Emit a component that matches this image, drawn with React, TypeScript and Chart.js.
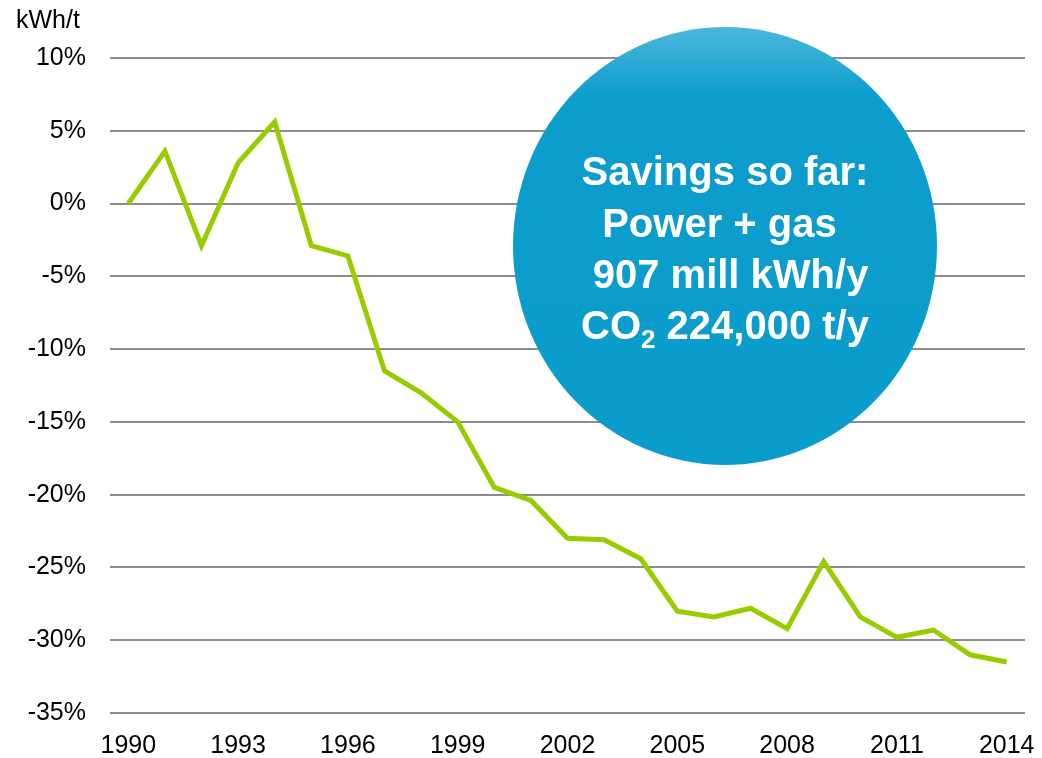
import React, { useEffect, useRef } from "react";
import { Chart, registerables } from "chart.js";

Chart.register(...registerables);

const years = [
  "1990", "1991", "1992", "1993", "1994", "1995", "1996", "1997", "1998", "1999",
  "2000", "2001", "2002", "2003", "2004", "2005", "2006", "2007", "2008", "2009",
  "2010", "2011", "2012", "2013", "2014",
];

const savingsPct = [
  0, 3.6, -2.9, 2.8, 5.6, -2.9, -3.6, -11.5, -13.0, -15.0,
  -19.5, -20.4, -23.0, -23.1, -24.4, -28.0, -28.4, -27.8, -29.2, -24.6,
  -28.4, -29.8, -29.3, -31.0, -31.5,
];

const yMin = -35;
const yMax = 10;
const yStep = 5;

const unitLabel = "kWh/t";
const bubbleLines = ["Savings so far:", "Power + gas ", " 907 mill kWh/y"];
const co2Parts = ["CO", "2", " 224,000 t/y"];

const FONT = "'Liberation Sans', Arial, sans-serif";

const overlayPlugin = {
  id: "overlay",
  afterDraw(chart: any) {
    const ctx = chart.ctx as CanvasRenderingContext2D;
    ctx.save();
    // unit label
    ctx.fillStyle = "#000";
    ctx.font = `25px ${FONT}`;
    ctx.textAlign = "left";
    ctx.textBaseline = "alphabetic";
    ctx.fillText(unitLabel, 16, 28);

    // bubble
    const cx = 725;
    const cy = 246;
    const rx = 212;
    const ry = 219;
    const grad = ctx.createLinearGradient(0, cy - ry, 0, cy + ry);
    grad.addColorStop(0, "#4db7dc");
    grad.addColorStop(0.16, "#0c9dcc");
    grad.addColorStop(1, "#0a9ccb");
    ctx.fillStyle = grad;
    ctx.beginPath();
    ctx.ellipse(cx, cy, rx, ry, 0, 0, Math.PI * 2);
    ctx.fill();

    ctx.fillStyle = "#ffffff";
    ctx.font = `bold 40px ${FONT}`;
    ctx.textAlign = "center";
    const baselines = [185, 237, 288];
    bubbleLines.forEach((t, i) => ctx.fillText(t, cx, baselines[i]));

    // CO2 line with subscript
    ctx.textAlign = "left";
    const big = `bold 40px ${FONT}`;
    const small = `bold 26px ${FONT}`;
    ctx.font = big;
    const w0 = ctx.measureText(co2Parts[0]).width;
    const w2 = ctx.measureText(co2Parts[2]).width;
    ctx.font = small;
    const w1 = ctx.measureText(co2Parts[1]).width;
    let x = cx - (w0 + w1 + w2) / 2;
    const base = 339;
    ctx.font = big;
    ctx.fillText(co2Parts[0], x, base);
    x += w0;
    ctx.font = small;
    ctx.fillText(co2Parts[1], x, base + 9);
    x += w1;
    ctx.font = big;
    ctx.fillText(co2Parts[2], x, base);
    ctx.restore();
  },
};

export default function App() {
  const ref = useRef<HTMLCanvasElement | null>(null);

  useEffect(() => {
    document.body.style.margin = "0";
    const canvas = ref.current;
    if (!canvas) return;
    const chart = new Chart(canvas, {
      type: "line",
      data: {
        labels: years,
        datasets: [
          {
            data: savingsPct,
            borderColor: "#99cc00",
            borderWidth: 5,
            pointRadius: 0,
            pointHoverRadius: 0,
            tension: 0,
            fill: false,
          },
        ],
      },
      options: {
        responsive: false,
        animation: false,
        devicePixelRatio: 1,
        layout: { padding: { top: 58, right: 17, left: 0, bottom: 0 } },
        plugins: {
          legend: { display: false },
          tooltip: { enabled: false },
          title: { display: false },
        },
        scales: {
          x: {
            type: "category",
            offset: true,
            grid: { display: false },
            border: { display: false },
            ticks: {
              autoSkip: false,
              maxRotation: 0,
              minRotation: 0,
              padding: 10,
              color: "#000",
              font: { family: FONT, size: 25 },
              callback: (_v: any, i: number) => (i % 3 === 0 ? years[i] : ""),
            },
            afterFit: (s: any) => {
              s.height = 45;
              s.paddingLeft = 0;
              s.paddingRight = 0;
            },
          },
          y: {
            min: yMin,
            max: yMax,
            grid: { color: "#8c8c8c", lineWidth: 2, drawTicks: false },
            border: { display: false },
            ticks: {
              stepSize: yStep,
              padding: 24,
              color: "#000",
              font: { family: FONT, size: 25 },
              callback: (v: any) => `${v}%`,
            },
            afterFit: (s: any) => {
              s.width = 110;
            },
          },
        },
      },
      plugins: [overlayPlugin],
    });
    return () => chart.destroy();
  }, []);

  return <canvas ref={ref} width={1042} height={758} style={{ display: "block" }} />;
}
